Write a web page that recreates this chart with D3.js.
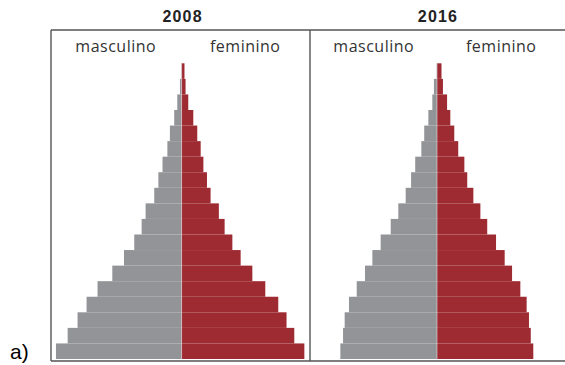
<!DOCTYPE html>
<html>
<head>
<meta charset="utf-8">
<script src="https://cdn.jsdelivr.net/npm/d3@7"></script>
<style>
  html, body { margin: 0; padding: 0; background: #fff; }
  svg { display: block; }
</style>
</head>
<body>
<svg id="chart" width="565" height="365"></svg>
<script>
// Age groups, oldest at the top
const ageGroups = ["90+","85-89","80-84","75-79","70-74","65-69","60-64","55-59","50-54",
  "45-49","40-44","35-39","30-34","25-29","20-24","15-19","10-14","5-9","0-4"];

// Share of population (%) by sex
const male2008   = [0.02,0.09,0.24,0.41,0.65,0.79,1.06,1.29,1.52,2.00,2.22,2.63,3.20,3.85,4.67,5.28,5.78,6.33,6.98];
const female2008 = [0.16,0.22,0.37,0.65,0.87,1.06,1.21,1.41,1.61,2.07,2.39,2.82,3.28,3.93,4.65,5.37,5.83,6.26,6.82];
const male2016   = [0.02,0.17,0.26,0.48,0.71,0.87,1.21,1.44,1.74,2.15,2.57,3.13,3.59,4.00,4.46,4.89,5.13,5.22,5.37];
const female2016 = [0.25,0.33,0.56,0.74,0.96,1.18,1.52,1.68,2.02,2.41,2.79,3.28,3.76,4.17,4.63,4.98,5.11,5.21,5.35];

const years = ["2008", "2016"];
const sexLabels = ["masculino", "feminino"];

const svg = d3.select("#chart");
const maleColor = "#929497", femaleColor = "#9e2b32", frameColor = "#555";

const y = d3.scaleBand().domain(ageGroups).range([63.3, 359]).padding(0);
const x = d3.scaleLinear().domain([0, 7]).range([0, 126]);

const panels = [
  { year: years[0], x0: 51,  x1: 310, center: 181.6, male: male2008, female: female2008 },
  { year: years[1], x0: 310, x1: 565, center: 437,   male: male2016, female: female2016 }
];

// Frame: top and bottom rules, outer left edge and the divider
svg.append("line").attr("x1", 51).attr("x2", 565).attr("y1", 30).attr("y2", 30)
  .attr("stroke", frameColor).attr("stroke-width", 1.4);
svg.append("line").attr("x1", 51).attr("x2", 565).attr("y1", 361).attr("y2", 361)
  .attr("stroke", frameColor).attr("stroke-width", 1.4);
[51, 310].forEach(px => {
  svg.append("line").attr("x1", px).attr("x2", px).attr("y1", 30).attr("y2", 361)
    .attr("stroke", frameColor).attr("stroke-width", 1.4);
});

panels.forEach(p => {
  const g = svg.append("g");
  const w = p.x1 - p.x0;

  g.append("text").attr("x", p.center + 1).attr("y", 21.5)
    .attr("text-anchor", "middle")
    .attr("font-family", "Liberation Sans, Arial, sans-serif")
    .attr("font-weight", "bold").attr("font-size", 16)
    .attr("letter-spacing", 1.2).attr("fill", "#222")
    .text(p.year);

  sexLabels.forEach((lab, i) => {
    g.append("text").attr("x", p.x0 + w * (i === 0 ? 0.25 : 0.75)).attr("y", 52.3)
      .attr("text-anchor", "middle")
      .attr("font-family", "Open Sans, sans-serif")
      .attr("font-size", 16).attr("letter-spacing", 0.5)
      .attr("fill", "#333")
      .text(lab);
  });

  const rows = ageGroups.map((a, i) => ({ age: a, m: p.male[i], f: p.female[i] }));

  g.selectAll("rect.m").data(rows).join("rect").attr("class", "m")
    .attr("x", d => p.center - x(d.m)).attr("y", d => y(d.age))
    .attr("width", d => x(d.m)).attr("height", y.bandwidth())
    .attr("fill", maleColor);

  g.selectAll("rect.f").data(rows).join("rect").attr("class", "f")
    .attr("x", p.center).attr("y", d => y(d.age))
    .attr("width", d => x(d.f)).attr("height", y.bandwidth())
    .attr("fill", femaleColor);

  // faint white rule between the two sexes
  g.append("line").attr("x1", p.center).attr("x2", p.center)
    .attr("y1", y.range()[0]).attr("y2", y.range()[1])
    .attr("stroke", "#f4f4f4").attr("stroke-width", 0.5);
});

svg.append("text").attr("x", 10).attr("y", 359)
  .attr("font-family", "Liberation Sans, Arial, sans-serif")
  .attr("font-size", 21).attr("fill", "#000")
  .text("a)");
</script>
</body>
</html>
